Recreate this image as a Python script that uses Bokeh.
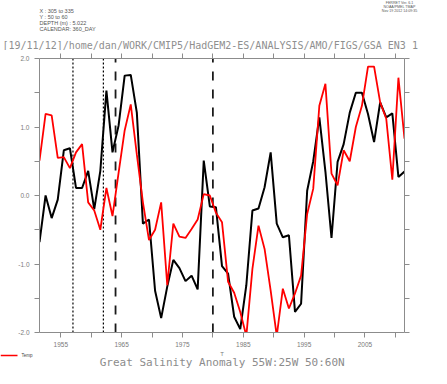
from bokeh.plotting import figure
from bokeh.layouts import column
from bokeh.models import LinearAxis, FixedTicker, NumeralTickFormatter, Range1d
from bokeh.core.properties import value
from bokeh.embed import file_html
from bokeh.resources import INLINE

# ---- data -------------------------------------------------------------
years = [1951, 1952, 1953, 1954, 1955, 1956, 1957, 1958, 1959, 1960,
         1961, 1962, 1963, 1964, 1965, 1966, 1967, 1968, 1969, 1970,
         1971, 1972, 1973, 1974, 1975, 1976, 1977, 1978, 1979, 1980,
         1981, 1982, 1983, 1984, 1985, 1986, 1987, 1988, 1989, 1990,
         1991, 1992, 1993, 1994, 1995, 1996, 1997, 1998, 1999, 2000,
         2001, 2002, 2003, 2004, 2005, 2006, 2007, 2008, 2009, 2010,
         2011]
salinity = [-0.68, 0.00, -0.33, -0.06, 0.66, 0.69, 0.11, 0.11, 0.36, -0.20,
            0.36, 1.53, 0.63, 1.02, 1.75, 1.76, 1.21, -0.41, -0.35, -1.39,
            -1.79, -1.33, -0.94, -1.06, -1.25, -1.17, -1.37, 0.51, -0.16, -0.17,
            -1.03, -1.14, -1.77, -1.95, -1.31, -0.22, -0.19, 0.12, 0.63, -0.41,
            -0.61, -0.58, -1.70, -1.58, 0.07, 0.50, 1.14, 0.35, -0.62, 0.49,
            0.75, 1.21, 1.50, 1.50, 1.19, 0.78, 1.36, 1.14, 1.20, 0.27,
            0.35]
temp = [0.51, 1.19, 1.17, 0.55, 0.56, 0.40, 0.63, 0.75, -0.10, -0.22,
        -0.50, 0.11, -0.30, 0.33, 0.95, 1.33, 0.60, -0.10, -0.65, -0.50,
        -0.10, -1.31, -0.41, -0.60, -0.62, -0.49, -0.35, 0.02, 0.00, -0.25,
        -0.39, -1.26, -1.42, -1.70, -2.05, -1.07, -0.44, -0.78, -1.39, -2.05,
        -1.36, -1.65, -1.43, -1.17, -0.27, 0.10, 1.31, 1.63, 0.32, 0.15,
        0.66, 0.50, 1.00, 1.31, 1.88, 1.88, 1.36, 1.12, 0.23, 1.72,
        0.83]
dotted_years = [1957, 1962]
dashed_years = [1964, 1980]
x_labels = [1955, 1965, 1975, 1985, 1995, 2005]
x_all = [1955, 1960, 1965, 1970, 1975, 1980, 1985, 1990, 1995, 2000, 2005, 2010]
x_minor = [1960, 1970, 1980, 1990, 2000, 2010]
y_labels = [-2, -1, 0, 1, 2]
y_all = [-2, -1.5, -1, -0.5, 0, 0.5, 1, 1.5, 2]
y_minor = [-1.5, -0.5, 0.5, 1.5]

header = ["X : 305 to 335", "Y : 50 to 60", "DEPTH (m) : 5.022",
          "CALENDAR: 360_DAY"]
stamp = ["FERRET Ver. 6.1", "NOAA/PMEL TMAP", "Nov 19 2012 14:09:35"]
path_title = "[19/11/12]/home/dan/WORK/CMIP5/HadGEM2-ES/ANALYSIS/AMO/FIGS/GSA_EN3_1"
main_title = "Great Salinity Anomaly 55W:25W 50:60N"
legend_label = "Temp"
x_title = "T"

mid = [y + 0.5 for y in years]

# ---- geometry ---------------------------------------------------------
W = 431
TOP_H = 50            # header strip
M_TOP, FH, M_BOT = 8, 274, 17
MAIN_H = M_TOP + FH + M_BOT
BOT_H = 368 - TOP_H - MAIN_H
FL, FW = 39, 365
X0, X1, Y0, Y1 = 1951.5, 2011.5, -2.0, 2.0

AX = "#8c8c8c"
LAB = "#7a7a7a"


def strip(h):
    f = figure(width=W, height=h, x_range=Range1d(0, W), y_range=Range1d(h, 0),
               x_axis_type=None, y_axis_type=None, title=None,
               output_backend="svg", toolbar_location=None, frame_align=False,
               min_border=0, min_border_left=0, min_border_right=0,
               min_border_top=0, min_border_bottom=0)
    f.xgrid.visible = False
    f.ygrid.visible = False
    f.outline_line_color = None
    return f


def put(f, xs, ys, texts, size, color, font="Liberation Sans", align="left"):
    f.text(x=xs, y=ys, text=texts, text_font=value(font),
           text_font_size=value(size), text_color=color,
           text_align=align, text_baseline="middle")


# ---- header strip -----------------------------------------------------
top = strip(TOP_H)
put(top, [39] * 4, [10.7, 16.4, 22.2, 28.0], header, "5.5px", "#555555")
put(top, [399] * 3, [2.3, 6.3, 10.6], stamp, "3.6px", "#555555", align="center")
put(top, [2], [45.3], [path_title], "10px", "#8f8f8f", font="DejaVu Sans Mono")

# ---- main plot --------------------------------------------------------
p = figure(width=W, height=MAIN_H, x_range=Range1d(X0, X1), y_range=Range1d(Y0, Y1),
           output_backend="svg", toolbar_location=None, title=None,
           frame_align=False,
           min_border_left=FL, min_border_right=W - FL - FW,
           min_border_top=M_TOP, min_border_bottom=M_BOT)
p.xgrid.visible = False
p.ygrid.visible = False
p.outline_line_color = None


def style(ax, standoff=4):
    ax.axis_line_color = AX
    ax.axis_line_width = 1
    ax.major_tick_line_color = AX
    ax.minor_tick_line_color = AX
    ax.major_tick_out = 5
    ax.major_tick_in = 0
    ax.minor_tick_out = 5
    ax.minor_tick_in = 0
    ax.major_label_text_font = "Liberation Sans"
    ax.major_label_text_color = LAB
    ax.major_label_text_font_size = "6.5px"
    ax.major_label_standoff = standoff


p.xaxis.ticker = FixedTicker(ticks=x_labels, minor_ticks=x_minor)
p.yaxis.ticker = FixedTicker(ticks=y_labels, minor_ticks=y_minor)
p.yaxis.formatter = NumeralTickFormatter(format="0.0")
style(p.xaxis[0], 4)
style(p.yaxis[0], 5)

ax_top = LinearAxis(ticker=FixedTicker(ticks=[], minor_ticks=x_all))
style(ax_top, 0)
p.add_layout(ax_top, "above")
ax_right = LinearAxis(ticker=FixedTicker(ticks=[], minor_ticks=y_all))
style(ax_right, 0)
p.add_layout(ax_right, "right")

p.segment(x0=dotted_years, y0=[Y0] * 2, x1=dotted_years, y1=[Y1] * 2,
          line_color="black", line_width=1.2, line_dash="2 2")
p.segment(x0=dashed_years, y0=[Y0] * 2, x1=dashed_years, y1=[Y1] * 2,
          line_color="#1a1a1a", line_width=1.8, line_dash="9 9")

p.line(mid, salinity, line_color="black", line_width=2)
p.line(mid, temp, line_color="#ff0000", line_width=1.8)

# ---- bottom strip (axis title, legend, title) --------------------------
bot = strip(BOT_H)
y_off = TOP_H + MAIN_H
put(bot, [221.5], [353.0 - y_off], [x_title], "6px", LAB, align="center")
bot.line(x=[0, 17], y=[355 - y_off] * 2, line_color="#ff0000", line_width=1.5)
put(bot, [21], [355 - y_off], [legend_label], "4.5px", "#444444")
put(bot, [221.7], [361.6 - y_off], [main_title], "11px", "#8c8c8c",
    font="DejaVu Sans Mono", align="center")

layout = column(top, p, bot, spacing=0)
open("out.html", "w").write(file_html(layout, INLINE))
